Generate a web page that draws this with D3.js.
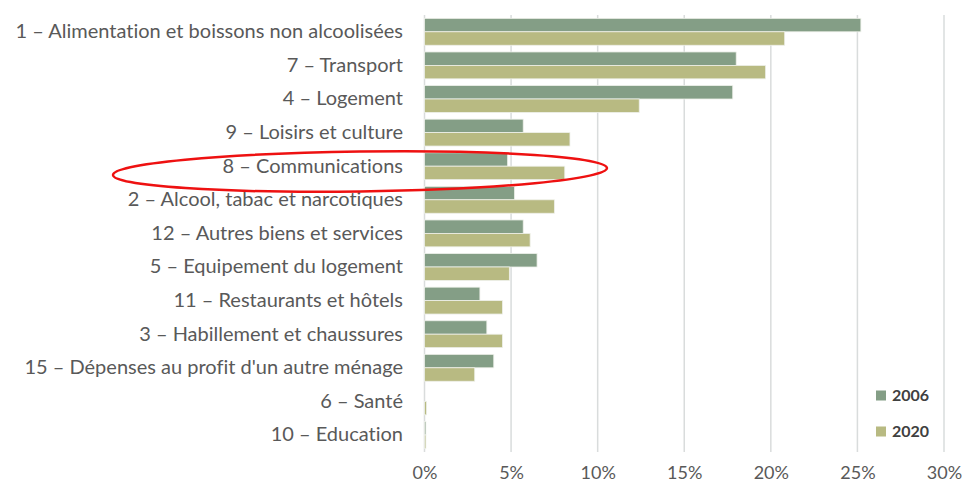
<!DOCTYPE html>
<html>
<head>
<meta charset="utf-8">
<script src="https://cdn.jsdelivr.net/npm/d3@7"></script>
<style>
  body { margin: 0; background: #fff; }
  svg { display: block; }
  text { font-variant-ligatures: none; }
</style>
</head>
<body>
<svg id="chart" width="964" height="488"></svg>
<script>
// categories, top to bottom
var categories = [
  "1 – Alimentation et boissons non alcoolisées",
  "7 – Transport",
  "4 – Logement",
  "9 – Loisirs et culture",
  "8 – Communications",
  "2 – Alcool, tabac et narcotiques",
  "12 – Autres biens et services",
  "5 – Equipement du logement",
  "11 – Restaurants et hôtels",
  "3 – Habillement et chaussures",
  "15 – Dépenses au profit d'un autre ménage",
  "6 – Santé",
  "10 – Education"
];

// shares in %
var values2006 = [25.2, 18.0, 17.8, 5.7, 4.8, 5.2, 5.7, 6.5, 3.2, 3.6, 4.0, 0.0, 0.08];
var values2020 = [20.8, 19.7, 12.4, 8.4, 8.1, 7.5, 6.1, 4.9, 4.5, 4.5, 2.9, 0.12, 0.08];

var seriesNames = ["2006", "2020"];
var tickValues = [0, 5, 10, 15, 20, 25, 30];

var colors = { "2006": "#849e86", "2020": "#b8ba82" };

var svg = d3.select("#chart");

//plot area
var plotLeft = 424.5, plotRight = 944, plotTop = 15, plotBottom = 451.8;

var x = d3.scaleLinear().domain([0, 30]).range([plotLeft, plotRight]);

var y = d3.scaleBand()
    .domain(categories)
    .range([plotTop, plotBottom])
    .paddingInner(0.2)
    .paddingOuter(0.1);

var ySub = d3.scaleBand()
    .domain(seriesNames)
    .range([0, y.bandwidth()]);

//gridlines
svg.append("g")
  .selectAll("line")
  .data(tickValues)
  .enter().append("line")
    .attr("x1", function (d) { return x(d); })
    .attr("x2", function (d) { return x(d); })
    .attr("y1", 15)
    .attr("y2", 452)
    .attr("stroke", "#d9dcdc")
    .attr("stroke-width", 1.5);

//x axis labels
var xAxis = d3.axisBottom(x)
    .tickValues(tickValues)
    .tickSize(0)
    .tickPadding(0)
    .tickFormat(function (d) { return d + "%"; });

var gx = svg.append("g")
    .attr("transform", "translate(0,466)")
    .call(xAxis);
gx.select(".domain").remove();
gx.selectAll("text")
    .attr("fill", "#595959")
    .style("font-family", "Lato, 'Open Sans', sans-serif")
    .style("font-size", "18px");

//bars
var rows = categories.map(function (c, i) {
  return { cat: c, vals: [
    { key: "2006", v: values2006[i] },
    { key: "2020", v: values2020[i] }
  ]};
});

var groups = svg.append("g")
  .selectAll("g")
  .data(rows)
  .enter().append("g")
    .attr("transform", function (d) { return "translate(0," + y(d.cat) + ")"; });

groups.selectAll("rect")
  .data(function (d) { return d.vals.filter(function (e) { return e.v > 0; }); })
  .enter().append("rect")
    .attr("x", x(0))
    .attr("y", function (d) { return ySub(d.key); })
    .attr("width", function (d) { return x(d.v) - x(0); })
    .attr("height", ySub.bandwidth())
    .attr("fill", function (d) { return colors[d.key]; })
    .attr("stroke", "#eef0ea")
    .attr("stroke-width", 0.8);

//category labels
var yAxis = d3.axisLeft(y).tickSize(0).tickPadding(0);
var gy = svg.append("g")
    .attr("transform", "translate(403,0)")
    .call(yAxis);
gy.select(".domain").remove();
gy.selectAll("text")
    .attr("fill", "#595959")
    .style("font-family", "Lato, 'Open Sans', sans-serif")
    .style("font-size", "20px");

//legend
var legend = svg.append("g")
  .selectAll("g")
  .data(seriesNames)
  .enter().append("g")
    .attr("transform", function (d, i) { return "translate(876," + (390.5 + i * 36) + ")"; });

legend.append("rect")
    .attr("width", 10)
    .attr("height", 10)
    .attr("fill", function (d) { return colors[d]; });

legend.append("text")
    .attr("x", 16)
    .attr("y", 5)
    .attr("dy", "0.35em")
    .attr("fill", "#404040")
    .style("font-family", "Lato, 'Open Sans', sans-serif")
    .style("font-weight", "bold")
    .style("font-size", "16px")
    .text(function (d) { return d; });

//red highlight ellipse
svg.append("ellipse")
    .attr("cx", 360)
    .attr("cy", 171.5)
    .attr("rx", 247)
    .attr("ry", 20)
    .attr("transform", "rotate(-0.8,360,171.5)")
    .attr("fill", "none")
    .attr("stroke", "#ee1111")
    .attr("stroke-width", 2.5);
</script>
</body>
</html>
